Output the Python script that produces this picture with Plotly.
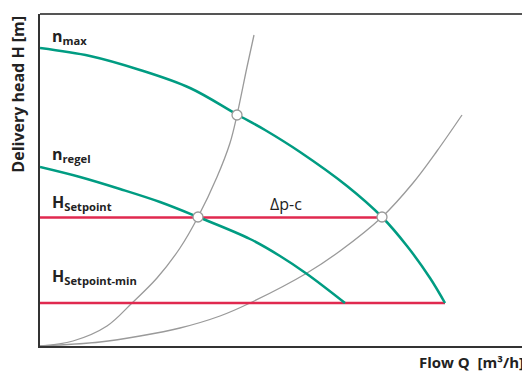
import plotly.graph_objects as go

# pump characteristic diagram, units (Q right, H up)
TEAL = "#009c82"
RED = "#e0294f"
GRAY = "#9a9a9a"
AXIS = "#333333"
FONT = "Open Sans, Noto Sans, sans-serif"

nmax_q = [0, 50, 100, 150, 197, 225, 260, 307, 342, 367, 390, 405]
nmax_h = [298, 290, 276, 258, 231.5, 216, 194, 160, 129, 100, 68, 43]

nregel_q = [0, 40, 80, 120, 158, 210, 240, 267, 305]
nregel_h = [179, 169, 157, 144, 129, 107, 90, 72, 43]

sys1_q = [0, 33, 67, 92, 117, 140, 158, 177, 190, 197, 207, 214]
sys1_h = [0, 5, 20, 43, 68, 98, 129, 169, 203, 231, 279, 311]

sys2_q = [0, 60, 100, 140, 180, 210, 267, 300, 342, 373, 397, 422]
sys2_h = [0, 4, 10, 18, 30, 43, 73, 95, 129, 163, 195, 231]

h_setpoint = 128.5
h_setpoint_end = 341
h_min = 43
h_min_end = 405

op_q = [197, 158, 342]
op_h = [231, 129, 129]

fig = go.Figure()

for q, h in [(sys1_q, sys1_h), (sys2_q, sys2_h)]:
    fig.add_trace(go.Scatter(x=q, y=h, mode="lines", line=dict(color=GRAY, width=1.3, shape="spline"),
                             hoverinfo="skip"))

fig.add_trace(go.Scatter(x=[0, h_setpoint_end], y=[h_setpoint, h_setpoint], mode="lines",
                         line=dict(color=RED, width=2.5)))
fig.add_trace(go.Scatter(x=[0, h_min_end], y=[h_min, h_min], mode="lines",
                         line=dict(color=RED, width=2.5)))

for q, h in [(nmax_q, nmax_h), (nregel_q, nregel_h)]:
    fig.add_trace(go.Scatter(x=q, y=h, mode="lines", line=dict(color=TEAL, width=2.5, shape="spline"),
                             hoverinfo="skip"))

fig.add_trace(go.Scatter(x=op_q, y=op_h, mode="markers",
                         marker=dict(size=10, color="white", line=dict(color=GRAY, width=1.3))))

labels = [
    (10, 296, "<b>n<sub>max</sub></b>"),
    (10, 178, "<b>n<sub>regel</sub></b>"),
    (10, 130, "<b>H<sub>Setpoint</sub></b>"),
    (10, 56, "<b>H<sub>Setpoint-min</sub></b>"),
]
for x, y, t in labels:
    fig.add_annotation(x=x, y=y, text=t, showarrow=False, xanchor="left", yanchor="bottom",
                       font=dict(size=16, color="#222222", family=FONT))
fig.add_annotation(x=228, y=142, text="Δp-c", showarrow=False, xanchor="left", yanchor="middle",
                   font=dict(size=16, color="#222222", family=FONT))

fig.add_annotation(xref="paper", yref="paper", x=1.0, y=-0.048, text="<b>Flow Q  [m³/h]</b>",
                   showarrow=False, xanchor="right", yanchor="middle",
                   font=dict(size=15, color="#222222", family=FONT))
fig.add_annotation(xref="paper", yref="paper", x=-0.047, y=1.0, text="<b>Delivery head H [m]</b>",
                   showarrow=False, textangle=-90, xanchor="center", yanchor="top",
                   font=dict(size=16, color="#222222", family=FONT))

# top frame line
fig.add_shape(type="line", xref="paper", yref="paper", x0=0, x1=1, y0=1, y1=1,
              line=dict(color="#555555", width=2))

fig.update_xaxes(range=[0, 486], showgrid=False, zeroline=False, showticklabels=False, ticks="",
                 showline=True, linecolor=AXIS, linewidth=2)
fig.update_yaxes(range=[0, 332], showgrid=False, zeroline=False, showticklabels=False, ticks="",
                 showline=True, linecolor=AXIS, linewidth=2)

# page body has an 8px margin, so the figure is 8px smaller and sits at (8, 8)
fig.update_layout(
    width=522, height=364,
    margin=dict(l=32, r=4, t=6, b=26, autoexpand=False),
    paper_bgcolor="white", plot_bgcolor="white",
    showlegend=False,
    font=dict(family=FONT),
)

fig.write_html("out.html")
